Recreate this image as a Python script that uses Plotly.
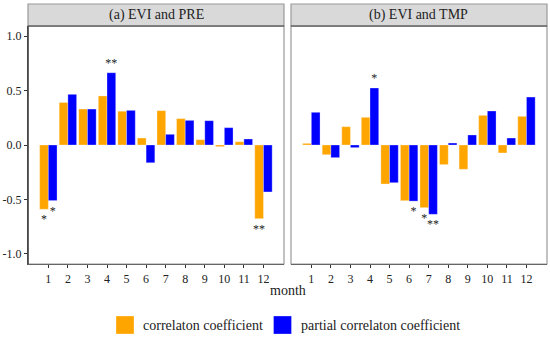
import plotly.graph_objects as go

months = list(range(1, 13))
panel_titles = ["(a) EVI and PRE", "(b) EVI and TMP"]
series_names = ["correlaton coefficient", "partial correlaton coefficient"]

a_corr = [-0.59, 0.39, 0.33, 0.45, 0.31, 0.064, 0.315, 0.242, 0.049, -0.015, 0.03, -0.676]
a_partial = [-0.51, 0.465, 0.33, 0.663, 0.318, -0.163, 0.098, 0.226, 0.223, 0.159, 0.055, -0.431]
b_corr = [0.015, -0.089, 0.168, 0.254, -0.358, -0.511, -0.575, -0.18, -0.223, 0.272, -0.073, 0.263]
b_partial = [0.30, -0.116, -0.024, 0.523, -0.346, -0.515, -0.636, 0.018, 0.092, 0.312, 0.064, 0.44]

a_corr_sig = ["*", "", "", "", "", "", "", "", "", "", "", "**"]
a_partial_sig = ["*", "", "", "**", "", "", "", "", "", "", "", ""]
b_corr_sig = ["", "", "", "", "", "", "*", "", "", "", "", ""]
b_partial_sig = ["", "", "", "*", "", "*", "**", "", "", "", "", ""]

y_tickvals = [-1.0, -0.5, 0.0, 0.5, 1.0]
y_ticktext = ["-1.0", "-0.5", "0.0", "0.5", "1.0"]
x_ticktext = [str(m) for m in months]

ORANGE = "#FFA500"
BLUE = "#0000FF"
FONT = "'Liberation Serif', 'Times New Roman', serif"
W, H = 550, 337

fig = go.Figure()
panels = [
    (a_corr, a_partial, a_corr_sig, a_partial_sig, "x", "y"),
    (b_corr, b_partial, b_corr_sig, b_partial_sig, "x2", "y2"),
]
star_font = dict(family=FONT, size=12, color="#222222")
for corr, part, csig, psig, xa, ya in panels:
    for vals, sig, col, name in [(corr, csig, ORANGE, series_names[0]), (part, psig, BLUE, series_names[1])]:
        fig.add_trace(go.Bar(
            x=months, y=vals, name=name, marker=dict(color=col, line=dict(color="rgba(255,255,255,0.5)", width=0.6)),
            text=sig, textposition="outside", constraintext="none", cliponaxis=False,
            textfont=star_font, outsidetextfont=star_font,
            xaxis=xa, yaxis=ya, showlegend=False, offsetgroup=name,
        ))

def px_x(p):
    return p / W

def px_y(p):
    return (H - p) / H

dom1 = [px_x(28), px_x(284)]
dom2 = [px_x(291), px_x(547)]
ydom = [px_y(264), px_y(26)]
strip_top = px_y(4)

xcommon = dict(range=[-0.04, 13.05], tickvals=months, ticktext=x_ticktext, ticks="outside", ticklen=3,
               tickcolor="#333", showline=True, linecolor="#333", linewidth=1.2, showgrid=False,
               zeroline=False, automargin=False, tickfont=dict(family=FONT, size=12, color="#222"))
ycommon = dict(range=[-1.092, 1.092], showgrid=False, zeroline=False, automargin=False, domain=ydom)

fig.update_layout(
    width=W, height=H, template="none",
    margin=dict(l=0, r=0, t=0, b=0),
    paper_bgcolor="white", plot_bgcolor="white",
    barmode="group", bargap=0.11, bargroupgap=0,
    font=dict(family=FONT, size=12, color="#222"),
    xaxis=dict(domain=dom1, anchor="y", **xcommon),
    xaxis2=dict(domain=dom2, anchor="y2", **xcommon),
    yaxis=dict(anchor="x", tickvals=y_tickvals, ticktext=y_ticktext, ticks="outside", ticklen=3,
               tickcolor="#333", showline=True, linecolor="#333", linewidth=1.2,
               tickfont=dict(family=FONT, size=12, color="#222"), **ycommon),
    yaxis2=dict(anchor="x2", matches="y", showticklabels=False, showline=False, **ycommon),
)

shapes = []
annotations = []
for dom, title in zip([dom1, dom2], panel_titles):
    shapes.append(dict(type="rect", xref="paper", yref="paper", x0=dom[0], x1=dom[1], y0=ydom[0], y1=ydom[1],
                       line=dict(color="#999", width=1.2), fillcolor="rgba(0,0,0,0)", layer="above"))
    shapes.append(dict(type="rect", xref="paper", yref="paper", x0=dom[0], x1=dom[1], y0=ydom[1], y1=strip_top,
                       line=dict(color="#999", width=1.2), fillcolor="#d9d9d9", layer="above"))
    shapes.append(dict(type="line", xref="paper", yref="paper", x0=dom[0], x1=dom[1], y0=ydom[1], y1=ydom[1],
                       line=dict(color="#444", width=1.2), layer="above"))
    annotations.append(dict(text=title, xref="paper", yref="paper", x=(dom[0] + dom[1]) / 2,
                            y=(ydom[1] + strip_top) / 2, showarrow=False, xanchor="center", yanchor="middle",
                            font=dict(family=FONT, size=14, color="#222")))

shapes.append(dict(type="line", xref="paper", yref="paper", x0=dom1[0], x1=dom1[0], y0=ydom[0], y1=ydom[1],
                   line=dict(color="#333", width=1.3), layer="above"))

annotations.append(dict(text="month", xref="paper", yref="paper", x=(dom1[0] + dom2[1]) / 2, y=px_y(290),
                        showarrow=False, xanchor="center", yanchor="middle",
                        font=dict(family=FONT, size=14, color="#222")))

legend_items = [(series_names[0], ORANGE, 116), (series_names[1], BLUE, 273.5)]
for name, col, x0 in legend_items:
    shapes.append(dict(type="rect", xref="paper", yref="paper", x0=px_x(x0), x1=px_x(x0 + 18),
                       y0=px_y(334), y1=px_y(316), fillcolor=col, line=dict(color="rgba(255,255,255,0.5)", width=0.6)))
    annotations.append(dict(text=name, xref="paper", yref="paper", x=px_x(x0 + 25), y=px_y(325),
                            showarrow=False, xanchor="left", yanchor="middle",
                            font=dict(family=FONT, size=14, color="#222")))

fig.update_layout(shapes=shapes, annotations=annotations)
fig.write_html("out.html", config={"displayModeBar": False},
               post_script="document.body.style.margin='0';document.body.style.overflow='hidden';")
